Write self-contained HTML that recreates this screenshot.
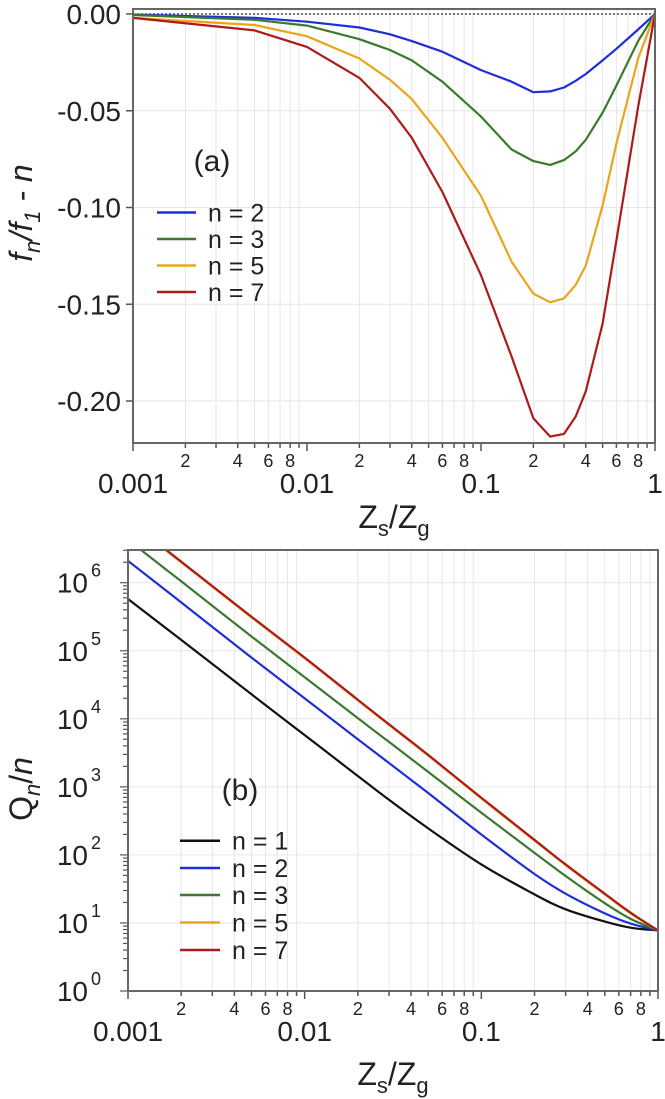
<!DOCTYPE html>
<html><head><meta charset="utf-8"><style>
html,body{margin:0;padding:0;background:#fff;}
svg{display:block;font-family:"Liberation Sans",sans-serif;}
</style></head><body>
<svg id="fig" width="665" height="1099" viewBox="0 0 665 1099">
<g id="pa"></g>
<g id="pb"></g>
</svg>
<script>
// ---------- Panel (a) data ----------
const aX = [0.001,0.005,0.01,0.02,0.03,0.04,0.06,0.1,0.15,0.2,0.25,0.3,0.35,0.4,0.5,0.6,0.8,1];
const aN2 = [-0.0003,-0.002,-0.004,-0.007,-0.0105,-0.014,-0.0195,-0.029,-0.035,-0.0404,-0.040,-0.038,-0.0345,-0.031,-0.024,-0.018,-0.008,0];
const aN3 = [-0.0005,-0.003,-0.006,-0.013,-0.0186,-0.024,-0.035,-0.053,-0.070,-0.076,-0.078,-0.0755,-0.071,-0.065,-0.051,-0.037,-0.014,0];
const aN5 = [-0.002,-0.0057,-0.0115,-0.023,-0.034,-0.044,-0.064,-0.094,-0.128,-0.1445,-0.149,-0.147,-0.140,-0.130,-0.099,-0.067,-0.023,0];
const aN7 = [-0.002,-0.0085,-0.017,-0.033,-0.049,-0.064,-0.092,-0.135,-0.177,-0.209,-0.2184,-0.217,-0.208,-0.195,-0.160,-0.117,-0.048,0];
const aYTicks = [0,-0.05,-0.10,-0.15,-0.20];
const aYLabels = ["0.00","-0.05","-0.10","-0.15","-0.20"];
const aLegend = ["n = 2","n = 3","n = 5","n = 7"];
// ---------- Panel (b) data (log10 of Q_n/n) ----------
const bX = [0.001,0.002,0.005,0.01,0.02,0.03,0.05,0.1,0.2,0.3,0.5,0.7,1];
const bN1 = [5.76,5.16,4.36,3.76,3.16,2.81,2.39,1.86,1.42,1.20,1.02,0.93,0.89];
const bN2 = [6.32,5.71,4.90,4.30,3.70,3.35,2.91,2.30,1.72,1.43,1.14,0.99,0.89];
const bN3 = [6.63,6.02,5.21,4.61,4.01,3.66,3.22,2.62,2.03,1.69,1.29,1.06,0.89];
const bN5 = [6.91,6.30,5.49,4.89,4.27,3.91,3.46,2.83,2.21,1.85,1.42,1.14,0.89];
const bN7 = [6.92,6.31,5.50,4.90,4.28,3.92,3.47,2.84,2.22,1.86,1.43,1.15,0.89];
const bYTicks = [0,1,2,3,4,5,6];
const bLegend = ["n = 1","n = 2","n = 3","n = 5","n = 7"];
const xDecades = [0.001,0.01,0.1,1];
const xDecLabels = ["0.001","0.01","0.1","1"];

const NS="http://www.w3.org/2000/svg";
function mk(parent,tag,attrs,text){const e=document.createElementNS(NS,tag);for(const k in attrs)e.setAttribute(k,attrs[k]);if(text!==undefined)e.textContent=text;parent.appendChild(e);return e;}
const colors={n1:"#111111",n2:"#1f2fd8",n3:"#3b7a2c",n5:"#e9a51c",n7:"#ad1a1a"};

function xAxisLog(g,L,R,T,B){
  const xs=v=>L+(Math.log10(v)+3)/3*(R-L);
  for(let d=-3;d<0;d++){for(let m=1;m<10;m++){const v=m*Math.pow(10,d);const x=xs(v);
    if(m>1){const gl=mk(g,"line",{x1:x,x2:x,y1:T,y2:B,stroke:"#e6e6e6","stroke-width":1});
      }
    const t=mk(g,"line",{x1:x,x2:x,y1:B,y2:B+(m===1?8:5),stroke:"#555","stroke-width":1.5});
    
    if(m===2||m===4||m===6||m===8){const tl=mk(g,"text",{x:x,y:B+24,"font-size":18,"text-anchor":"middle",fill:"#222"},String(m));
      }
  }}
  const tr=mk(g,"line",{x1:R,x2:R,y1:B,y2:B+8,stroke:"#555","stroke-width":1.5});
  
  xDecades.forEach((v,i)=>{const t=mk(g,"text",{x:xs(v),y:B+50,"font-size":28,"text-anchor":"middle",fill:"#222"},xDecLabels[i]);
    });
  return xs;
}
function frame(g,L,R,T,B){const r=mk(g,"rect",{x:L,y:T,width:R-L,height:B-T,fill:"none",stroke:"#666","stroke-width":2});
  }
function smoothPath(pts){
  let d="M"+pts[0][0].toFixed(1)+","+pts[0][1].toFixed(1);
  for(let i=0;i<pts.length-1;i++){
    const p0=pts[i-1]||pts[i],p1=pts[i],p2=pts[i+1],p3=pts[i+2]||p2;
    const c1=[p1[0]+(p2[0]-p0[0])/6,p1[1]+(p2[1]-p0[1])/6];
    const c2=[p2[0]-(p3[0]-p1[0])/6,p2[1]-(p3[1]-p1[1])/6];
    d+=" C"+c1[0].toFixed(1)+","+c1[1].toFixed(1)+" "+c2[0].toFixed(1)+","+c2[1].toFixed(1)+" "+p2[0].toFixed(1)+","+p2[1].toFixed(1);
  }
  return d;
}
function linePath(pts){return "M"+pts.map(p=>p[0].toFixed(1)+","+p[1].toFixed(1)).join(" L");}
function series(g,pts,color,name,smooth){const p=mk(g,"path",{d:smooth?smoothPath(pts):linePath(pts),fill:"none",stroke:color,"stroke-width":2.2,"stroke-linejoin":"round"});
  }
function xTitle(g,cx,y){const t=mk(g,"text",{x:cx,y:y,"font-size":32,"text-anchor":"middle",fill:"#222"});
  
  t.innerHTML='Z<tspan font-size="22" dy="8">s</tspan><tspan dy="-8">/Z</tspan><tspan font-size="22" dy="8">g</tspan>';}

// ---------- Panel (a) ----------
(function(){
  const g=document.getElementById('pa');
  const L=133,R=655,T=9,B=443,y0=14,per=96.75/0.05;
  const ys=v=>y0-v*per;
  aYTicks.forEach((v,i)=>{const y=ys(v);
    const gl=mk(g,"line",{x1:L,x2:R,y1:y,y2:y,stroke:"#e6e6e6","stroke-width":1});
    const t=mk(g,"line",{x1:L-7,x2:L,y1:y,y2:y,stroke:"#555","stroke-width":1.5});
    const tl=mk(g,"text",{x:L-12,y:y+10,"font-size":28,"text-anchor":"end",fill:"#222"},aYLabels[i]);});
  const xs=xAxisLog(g,L,R,T,B);
  const z=mk(g,"line",{x1:L,x2:R,y1:ys(0),y2:ys(0),stroke:"#333","stroke-width":1.2,"stroke-dasharray":"2,2"});
  
  [[aN2,colors.n2,'series-n2'],[aN3,colors.n3,'series-n3'],[aN5,colors.n5,'series-n5'],[aN7,colors.n7,'series-n7']].forEach(s=>{
    series(g,aX.map((x,i)=>[xs(x),ys(s[0][i])]),s[1],s[2],false);});
  frame(g,L,R,T,B);
  const lc=[colors.n2,colors.n3,colors.n5,colors.n7];const ly=[212.5,239,265.5,292];
  aLegend.forEach((txt,i)=>{const l=mk(g,"line",{x1:157,x2:196,y1:ly[i],y2:ly[i],stroke:lc[i],"stroke-width":2.5});
    
    const t=mk(g,"text",{x:208,y:ly[i]+9,"font-size":25,fill:"#222"},txt);});
  const pl=mk(g,"text",{x:212,y:171,"font-size":30,"text-anchor":"middle",fill:"#222"},"(a)");
  const yt=mk(g,"text",{x:0,y:0,"font-size":32,"text-anchor":"middle",fill:"#222","font-style":"italic",transform:"translate(32,213) rotate(-90)"});
  
  yt.innerHTML='f<tspan font-size="22" dy="8">n</tspan><tspan dy="-8">/f</tspan><tspan font-size="22" dy="8">1</tspan><tspan dy="-8"> - n</tspan>';
  xTitle(g,394,528);
})();

// ---------- Panel (b) ----------
(function(){
  const g=document.getElementById('pb');
  const L=128,R=658,T=550,B=991,per=68.05;
  const ys=lv=>B-lv*per;
  for(let d=0;d<7;d++){for(let m=1;m<10;m++){const lv=d+Math.log10(m);const y=ys(lv);if(y<T)continue;
    if(m===1){const gl=mk(g,"line",{x1:L,x2:R,y1:y,y2:y,stroke:"#e6e6e6","stroke-width":1});}
    const t=mk(g,"line",{x1:L-(m===1?8:5),x2:L,y1:y,y2:y,stroke:"#555","stroke-width":1.2});}}
  bYTicks.forEach(d=>{const y=ys(d);
    const tl=mk(g,"text",{x:88,y:y+10,"font-size":28,"text-anchor":"end",fill:"#222"},"10");
    const sp=mk(g,"text",{x:91,y:y-6,"font-size":18,fill:"#222"},String(d));});
  const xs=xAxisLog(g,L,R,T,B);
  const clip=mk(g,"clipPath",{id:"clipb"});mk(clip,"rect",{x:L,y:T,width:R-L,height:B-T});
  const sg=mk(g,"g",{"clip-path":"url(#clipb)"});
  [[bN1,colors.n1,'series-n1'],[bN2,colors.n2,'series-n2'],[bN3,colors.n3,'series-n3'],[bN5,colors.n5,'series-n5'],[bN7,colors.n7,'series-n7']].forEach(s=>{
    series(sg,bX.map((x,i)=>[xs(x),ys(s[0][i])]),s[1],s[2],true);});
  frame(g,L,R,T,B);
  const lc=[colors.n1,colors.n2,colors.n3,colors.n5,colors.n7];const ly=[840.7,868,895,922.5,950];
  bLegend.forEach((txt,i)=>{const l=mk(g,"line",{x1:180,x2:220,y1:ly[i],y2:ly[i],stroke:lc[i],"stroke-width":2.5});
    
    const t=mk(g,"text",{x:232,y:ly[i]+9,"font-size":25,fill:"#222"},txt);});
  const pl=mk(g,"text",{x:240,y:800,"font-size":30,"text-anchor":"middle",fill:"#222"},"(b)");
  const yt=mk(g,"text",{x:0,y:0,"font-size":32,"text-anchor":"middle",fill:"#222",transform:"translate(32,789) rotate(-90)"});
  
  yt.innerHTML='Q<tspan font-size="22" dy="8" font-style="italic">n</tspan><tspan dy="-8">/</tspan><tspan font-style="italic">n</tspan>';
  xTitle(g,393,1085);
})();
</script>
</body></html>
